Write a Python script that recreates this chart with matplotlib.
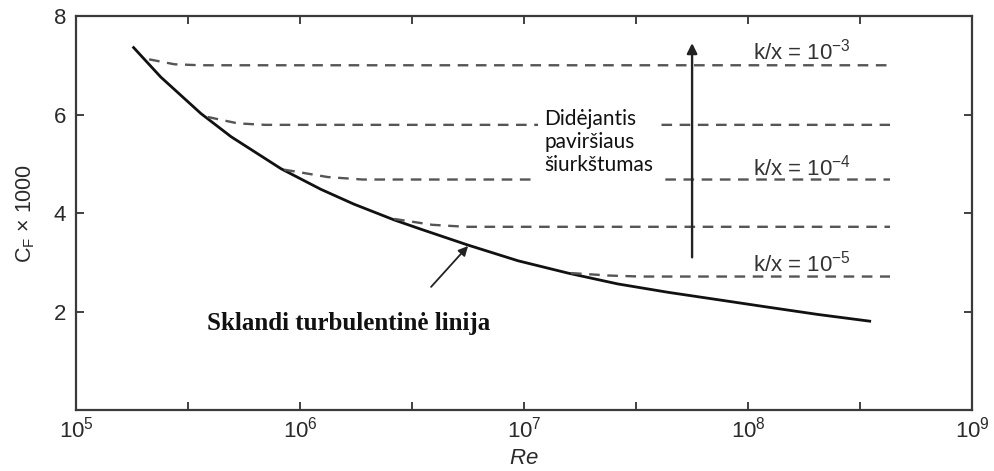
import numpy as np
import matplotlib
matplotlib.use('Agg')
from matplotlib import pyplot as plt

# smooth turbulent line
smooth_re = [1.79e5, 2.39e5, 3.61e5, 4.92e5, 8.22e5, 1.24e6, 1.74e6, 2.63e6,
             3.47e6, 5.61e6, 9.4e6, 1.57e7, 2.62e7, 4.39e7, 7.33e7, 1.22e8,
             2.05e8, 3.54e8]
smooth_cf = [7.38, 6.76, 6.02, 5.55, 4.90, 4.48, 4.18, 3.86,
             3.67, 3.35, 3.03, 2.78, 2.56, 2.39, 2.24, 2.09,
             1.94, 1.80]

# rough-wall curves (dashed), each leaves the smooth line and levels off
rough_re = [
    [2.12e5, 2.75e5, 3.6e5, 4.3e8],
    [3.87e5, 5.27e5, 7.0e5, 4.3e8],
    [8.5e5, 1.33e6, 1.9e6, 4.3e8],
    [2.63e6, 3.9e6, 5.5e6, 4.3e8],
    [1.62e7, 2.4e7, 3.3e7, 4.3e8],
]
rough_cf = [
    [7.12, 7.02, 7.00, 7.00],
    [5.95, 5.82, 5.79, 5.79],
    [4.88, 4.73, 4.68, 4.68],
    [3.88, 3.76, 3.72, 3.72],
    [2.78, 2.73, 2.71, 2.71],
]

k_labels = [r'k/x = 10$^{\mathsf{-3}}$', r'k/x = 10$^{\mathsf{-4}}$', r'k/x = 10$^{\mathsf{-5}}$']
k_label_y = [7.27, 4.93, 2.98]

xticks = [1e5, 1e6, 1e7, 1e8, 1e9]
xticklabels = [r'10$^{\mathsf{5}}$', r'10$^{\mathsf{6}}$', r'10$^{\mathsf{7}}$',
               r'10$^{\mathsf{8}}$', r'10$^{\mathsf{9}}$']
yticks = [2, 4, 6, 8]

plt.rcParams['font.family'] = ['Liberation Sans', 'DejaVu Sans']
plt.rcParams['mathtext.fontset'] = 'custom'
plt.rcParams['mathtext.rm'] = 'Liberation Sans'
plt.rcParams['mathtext.sf'] = 'Liberation Sans'
plt.rcParams['mathtext.it'] = 'Liberation Sans:italic'

fig = plt.figure(figsize=(9.95, 4.71), dpi=100)
ax = fig.add_axes([0.0764, 0.1295, 0.9006, 0.8365])

ax.plot(smooth_re, smooth_cf, color='#111111', lw=2.0, solid_capstyle='butt',
        solid_joinstyle='round')
for rx, ry in zip(rough_re, rough_cf):
    ax.plot(rx, ry, color='#555555', lw=1.7, dashes=(4.5, 3.2))

ax.set_xscale('log')
ax.set_xlim(1e5, 1e9)
ax.set_ylim(0, 8)

ax.set_xticks(xticks)
ax.set_xticklabels(xticklabels)
half = [10 ** (p + 0.5) for p in range(5, 9)]
ax.set_xticks(half, minor=True)
ax.set_xticklabels([], minor=True)
ax.set_yticks(yticks)
ax.tick_params(axis='both', which='both', direction='in', length=6, width=1.3,
               colors='#333333', labelcolor='#2a2a2a', labelsize=16,
               top=True, right=True, pad=7)
ax.tick_params(axis='x', pad=5)

for s in ax.spines.values():
    s.set_color('#3a3a3a')
    s.set_linewidth(1.6)

ax.set_xlabel(r'$\mathit{Re}$', fontsize=16, color='#2a2a2a', labelpad=4)
ax.set_ylabel(r'C$_{\mathsf{F}}$ × 1000', fontsize=15.5, color='#2a2a2a', labelpad=12)

# increasing roughness arrow
ax.annotate('', xy=(10 ** 7.75, 7.45), xytext=(10 ** 7.75, 3.1),
            arrowprops=dict(arrowstyle='-|>', color='#222222', lw=1.7,
                            mutation_scale=15, shrinkA=0, shrinkB=0))

for lab, yy in zip(k_labels, k_label_y):
    ax.text(10 ** 8.022, yy, lab, fontsize=16, color='#333333', va='center', ha='left')

ax.text(10 ** 7.089, 6.12, 'Didėjantis\npaviršiaus\nšiurkštumas', fontsize=15,
        family=['Lato', 'DejaVu Sans'], color='#111111', va='top', ha='left',
        linespacing=1.2,
        bbox=dict(facecolor='white', edgecolor='none', pad=4))

# pointer to the smooth line
ax.annotate('', xy=(10 ** 6.75, 3.33), xytext=(10 ** 6.585, 2.5),
            arrowprops=dict(arrowstyle='-|>', color='#222222', lw=1.3,
                            mutation_scale=14, shrinkA=0, shrinkB=0))
ax.text(10 ** 5.585, 1.755, 'Sklandi turbulentinė linija', fontsize=18,
        family=['Liberation Serif', 'DejaVu Serif'], fontweight='bold',
        color='#111111', va='center', ha='left')

plt.savefig('out.png', dpi=100)
